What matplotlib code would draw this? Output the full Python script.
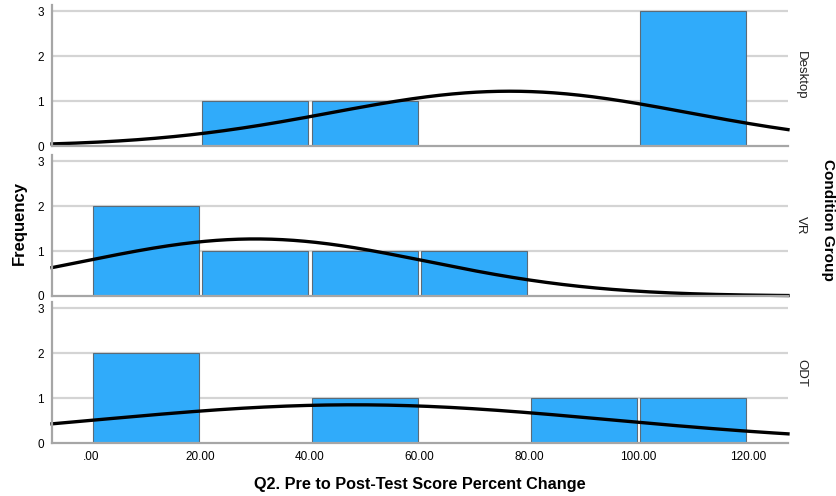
import numpy as np
import matplotlib
matplotlib.use("Agg")
import matplotlib.pyplot as plt

plt.rcParams["font.family"] = ["Liberation Sans", "DejaVu Sans"]

# ─── Data ────────────────────────────────────────────────────────────────────
GROUPS     = ["Desktop", "VR", "ODT"]
BIN_LEFT   = [0, 20, 40, 60, 80, 100]
BIN_WIDTH  = 20
COUNTS_DESKTOP = [0, 1, 1, 0, 0, 3]
COUNTS_VR      = [2, 1, 1, 1, 0, 0]
COUNTS_ODT     = [2, 0, 1, 0, 1, 1]
COUNTS = [COUNTS_DESKTOP, COUNTS_VR, COUNTS_ODT]

# fitted normal curve per group (mean, sd, n)
CURVE_MEAN = [76.5, 30.0, 48.0]
CURVE_SD   = [32.7, 31.4, 46.9]
CURVE_N    = [5, 5, 5]

X_TICKS = [0, 20, 40, 60, 80, 100, 120]
X_TICKLABELS = [".00", "20.00", "40.00", "60.00", "80.00", "100.00", "120.00"]
Y_TICKS = [0, 1, 2, 3]

# ─── Style ───────────────────────────────────────────────────────────────────
BAR_COLOR  = "#30ABFA"
BAR_EDGE   = "#5B6B78"
GRID_COLOR = "#D4D4D4"
SPINE_COLOR = "#A6A6A6"
XLIM = (-7.1, 127.3)
YLIM = (0, 3.14)

W, H = 837, 496
fig = plt.figure(figsize=(W / 100, H / 100), dpi=100)
fig.patch.set_facecolor("white")

left_px, right_px = 52, 788
panel_bottoms = [146, 296, 443]
panel_h = 141

xs = np.linspace(XLIM[0], XLIM[1], 400)

for i, grp in enumerate(GROUPS):
    b = panel_bottoms[i]
    ax = fig.add_axes([left_px / W, 1 - b / H, (right_px - left_px) / W, panel_h / H])
    ax.set_xlim(*XLIM)
    ax.set_ylim(*YLIM)

    for y in Y_TICKS[1:]:
        ax.axhline(y, color=GRID_COLOR, linewidth=1.6, zorder=0)

    for lft, c in zip(BIN_LEFT, COUNTS[i]):
        if c > 0:
            ax.bar(lft + 0.3, c, width=BIN_WIDTH - 0.6, align="edge",
                   color=BAR_COLOR, edgecolor=BAR_EDGE, linewidth=0.8, zorder=2)

    mu, sd, n = CURVE_MEAN[i], CURVE_SD[i], CURVE_N[i]
    ys = n * BIN_WIDTH * np.exp(-0.5 * ((xs - mu) / sd) ** 2) / (sd * np.sqrt(2 * np.pi))
    ax.plot(xs, ys, color="black", linewidth=2.4, zorder=3, clip_on=False)

    for s in ["top", "right"]:
        ax.spines[s].set_visible(False)
    for s in ["left", "bottom"]:
        ax.spines[s].set_color(SPINE_COLOR)
        ax.spines[s].set_linewidth(1.6)
        ax.spines[s].set_zorder(4)

    ax.set_yticks(Y_TICKS)
    ax.set_yticklabels([str(v) for v in Y_TICKS], fontsize=8.5)
    ax.tick_params(axis="y", length=0, pad=6)
    ax.set_xticks(X_TICKS)
    if i == len(GROUPS) - 1:
        ax.set_xticklabels(X_TICKLABELS, fontsize=8.5)
        ax.tick_params(axis="x", length=0, pad=6)
    else:
        ax.tick_params(axis="x", length=0, labelbottom=False)

    ax.text(1.01, 0.5, grp, transform=ax.transAxes, rotation=-90,
            ha="left", va="center", fontsize=9.5, color="#222222")

fig.text(19 / W, 1 - 223 / H, "Frequency", rotation=90, ha="center", va="center",
         fontsize=12, fontweight="bold")
fig.text(828 / W, 1 - 220 / H, "Condition Group", rotation=-90, ha="center",
         va="center", fontsize=11, fontweight="bold")
fig.text(420 / W, 1 - 484 / H, "Q2. Pre to Post-Test Score Percent Change",
         ha="center", va="center", fontsize=11.7, fontweight="bold")

fig.savefig("out.png", dpi=100)
